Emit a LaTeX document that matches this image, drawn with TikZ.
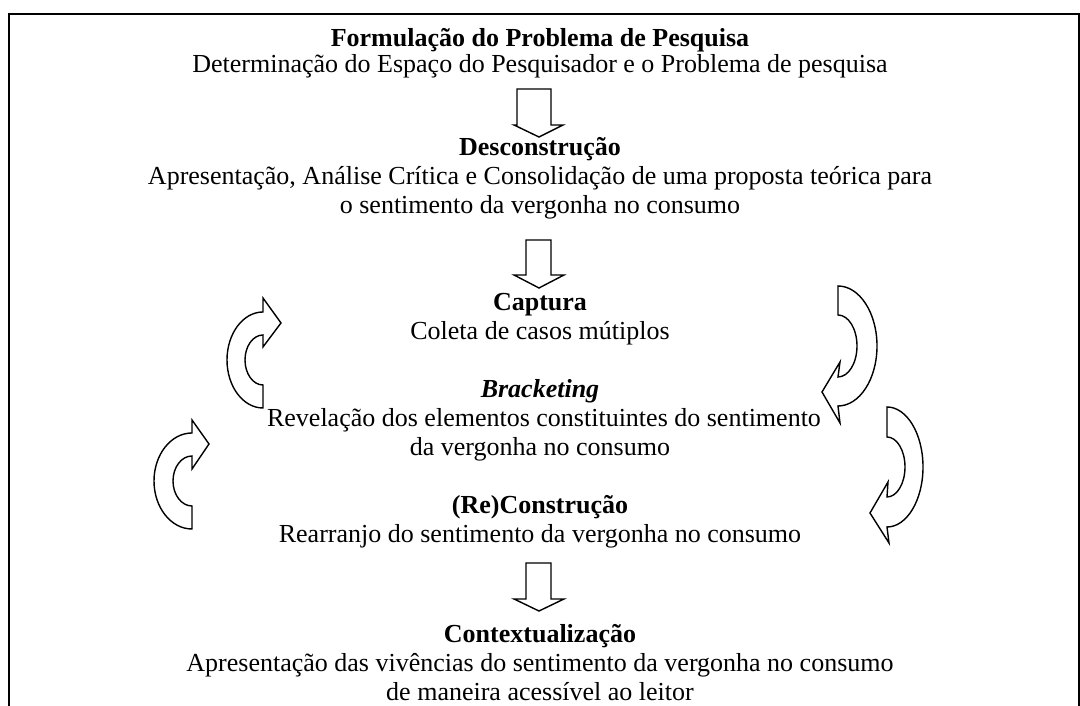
\documentclass[tikz,border=0pt]{standalone}
\usepackage{fontspec}
\setmainfont{Liberation Serif}
\begin{document}
\begin{tikzpicture}[x=1pt,y=1pt,
  txt/.style={anchor=base,inner sep=0pt,font=\fontsize{26}{29}\selectfont},
  ttl/.style={txt,font=\fontsize{26}{29}\selectfont\bfseries},
  blockarrow/.style={draw=black,fill=white,line width=1.4pt,line join=miter},
  frame/.style={line width=2.3pt}]
\useasboundingbox (0,0) rectangle (1080,706);
% frame
\draw[frame] (9,0) -- (9,692) -- (1080,692);
\draw[frame] (1079,692) -- (1079,0);
% texts
\node[ttl] (t1) at (540,{706-47}) {Formulação do Problema de Pesquisa};
\node[txt] (l1) at (540,{706-73}) {Determinação do Espaço do Pesquisador e o Problema de pesquisa};
\node[ttl] (t2) at (540,{706-156}) {Desconstrução};
\node[txt] (l2a) at (540,{706-185}) {Apresentação, Análise Crítica e Consolidação de uma proposta teórica para};
\node[txt] (l2b) at (540,{706-214}) {o sentimento da vergonha no consumo};
\node[ttl] (t3) at (540,{706-311}) {Captura};
\node[txt] (l3) at (540,{706-340}) {Coleta de casos mútiplos};
\node[ttl] (t4) at (540,{706-398}) {\itshape Bracketing};
\node[txt] (l4a) at (544,{706-427}) {Revelação dos elementos constituintes do sentimento};
\node[txt] (l4b) at (540,{706-456}) {da vergonha no consumo};
\node[ttl] (t5) at (540,{706-514}) {(Re)Construção};
\node[txt] (l5) at (540,{706-543}) {Rearranjo do sentimento da vergonha no consumo};
\node[ttl] (t6) at (540,{706-643}) {Contextualização};
\node[txt] (l6a) at (540,{706-672}) {Apresentação das vivências do sentimento da vergonha no consumo};
\node[txt] (l6b) at (540,{706-701}) {de maneira acessível ao leitor};
% straight block arrows
\draw[blockarrow] (517,617) -- (551,617) -- (551,581) -- (563,581) -- (539,569) -- (514,581) -- (517,581) -- cycle;
\draw[blockarrow] (526,466) -- (551,466) -- (551,431) -- (564,431) -- (539,418) -- (514,431) -- (526,431) -- cycle;
\draw[blockarrow] (526,143) -- (551,143) -- (551,107) -- (564,107) -- (539,95) -- (514,107) -- (526,107) -- cycle;
% curved arrow A (upper left)
\draw[blockarrow] (263,394) -- (263,408) -- (281,383) -- (263,359) -- (263,371)
  arc[start angle=90,end angle=270,x radius=18,y radius=25]
  -- (263,298)
  arc[start angle=270,end angle=90,x radius=36,y radius=48] -- cycle;
% curved arrow B (lower left)
\draw[blockarrow] (192,273) -- (192,286) -- (209,262) -- (192,237) -- (192,250)
  arc[start angle=90,end angle=270,x radius=19,y radius=25]
  -- (192,177)
  arc[start angle=270,end angle=90,x radius=38,y radius=48] -- cycle;
% curved arrow C (upper right)
\draw[blockarrow] (838,420)
  arc[start angle=90,end angle=-90,x radius=39,y radius=60]
  -- (840,283) -- (822,314) -- (840,344) -- (838,329)
  arc[start angle=-90,end angle=90,x radius=19,y radius=31] -- cycle;
% curved arrow D (lower right)
\draw[blockarrow] (887,299)
  arc[start angle=90,end angle=-90,x radius=36,y radius=60]
  -- (889,163) -- (870,193) -- (888,224) -- (887,209)
  arc[start angle=-90,end angle=90,x radius=18,y radius=30] -- cycle;
\end{tikzpicture}
\end{document}
